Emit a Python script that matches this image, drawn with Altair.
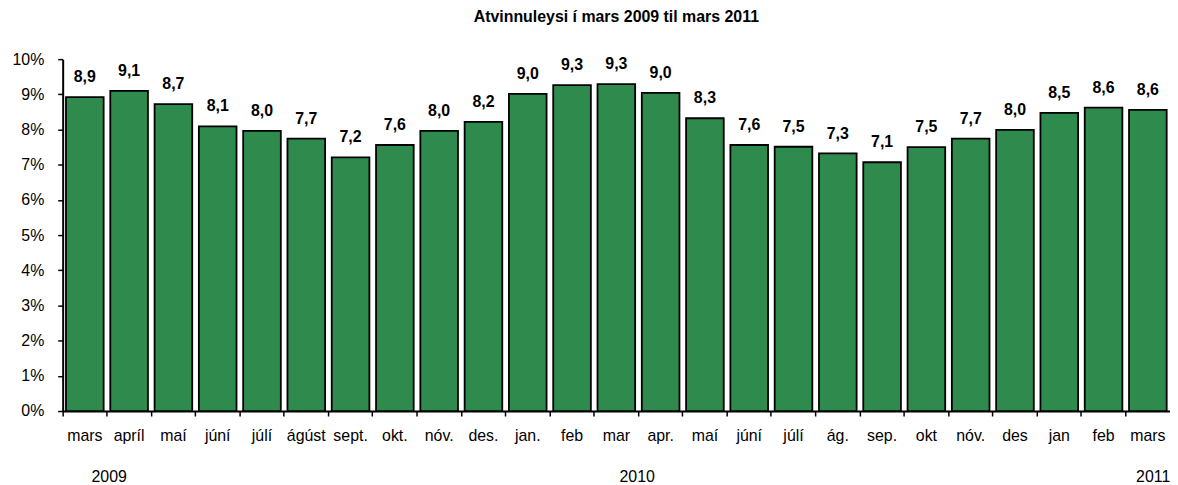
import json
import altair as alt
import pandas as pd

FONT = "Liberation Sans"
GREEN = "#2f8a4e"

months = ["mars", "apríl", "maí", "júní", "júlí", "ágúst", "sept.", "okt.", "nóv.", "des.",
          "jan.", "feb", "mar", "apr.", "maí", "júní", "júlí", "ág.", "sep.", "okt",
          "nóv.", "des", "jan", "feb", "mars"]
values = [8.92, 9.10, 8.72, 8.09, 7.96, 7.74, 7.21, 7.56, 7.96, 8.22,
          9.01, 9.26, 9.29, 9.04, 8.32, 7.56, 7.51, 7.32, 7.07, 7.50,
          7.74, 7.99, 8.47, 8.62, 8.56]
years = ["2009", "2010", "2011"]
year_idx = [1, 12, 24]
year_band = [0.05, 0.97, 0.62]

df = pd.DataFrame({"idx": list(range(len(months))), "month": months, "v": values})

label_expr = json.dumps(months, ensure_ascii=False) + "[datum.value]"

x_scale = alt.Scale(domain=list(range(len(months))), paddingInner=0, paddingOuter=0)
x_axis = alt.Axis(
    title=None, labelExpr=label_expr, labelAngle=0, labelOverlap=False,
    labelFont=FONT, labelFontSize=16, labelColor="black", labelPadding=12,
    bandPosition=0, tickSize=5, tickColor="black", tickWidth=1.5,
    domainColor="black", domainWidth=2, labelBound=False,
)
y_scale = alt.Scale(domain=[0, 10], nice=False)
y_axis = alt.Axis(
    title=None, values=list(range(0, 11)), labelExpr="datum.value + '%'",
    labelFont=FONT, labelFontSize=16, labelColor="black", labelPadding=14,
    tickSize=5, tickColor="black", tickWidth=1.5, grid=False,
    domainColor="black", domainWidth=2,
)

bars = alt.Chart(df).mark_bar(
    fill=GREEN, stroke="black", strokeWidth=1.8, width=alt.RelativeBandSize(0.85)
).encode(
    x=alt.X("idx:O", scale=x_scale, axis=x_axis),
    y=alt.Y("v:Q", scale=y_scale, axis=y_axis),
)

labels = alt.Chart(df).transform_calculate(
    lbl="replace(format(datum.v, '.1f'), '.', ',')"
).mark_text(
    font=FONT, fontSize=16, fontWeight="bold", baseline="alphabetic", dy=-15, color="black"
).encode(
    x=alt.X("idx:O", scale=x_scale, axis=x_axis),
    y=alt.Y("v:Q", scale=y_scale, axis=y_axis),
    text="lbl:N",
)

year_layers = []
for yr, yi, bp in zip(years, year_idx, year_band):
    ydf = pd.DataFrame({"idx": [yi], "year": [yr]})
    year_layers.append(
        alt.Chart(ydf).mark_text(
            font=FONT, fontSize=16, baseline="alphabetic", color="black"
        ).encode(
            x=alt.X("idx:O", scale=x_scale, axis=x_axis, bandPosition=bp),
            y=alt.value(425),
            text="year:N",
        )
    )

chart = alt.layer(bars, labels, *year_layers).properties(
    width=1114,
    height=354,
    padding={"left": 55, "top": 50, "right": 0, "bottom": 77},
    autosize="none",
    title=alt.Title(
        "Atvinnuleysi í mars 2009 til mars 2011", font=FONT, fontSize=16,
        fontWeight="bold", anchor="middle", offset=26, color="black",
    ),
).configure_view(stroke=None)

chart.save("out.html", embed_options={"renderer": "svg", "actions": False})
